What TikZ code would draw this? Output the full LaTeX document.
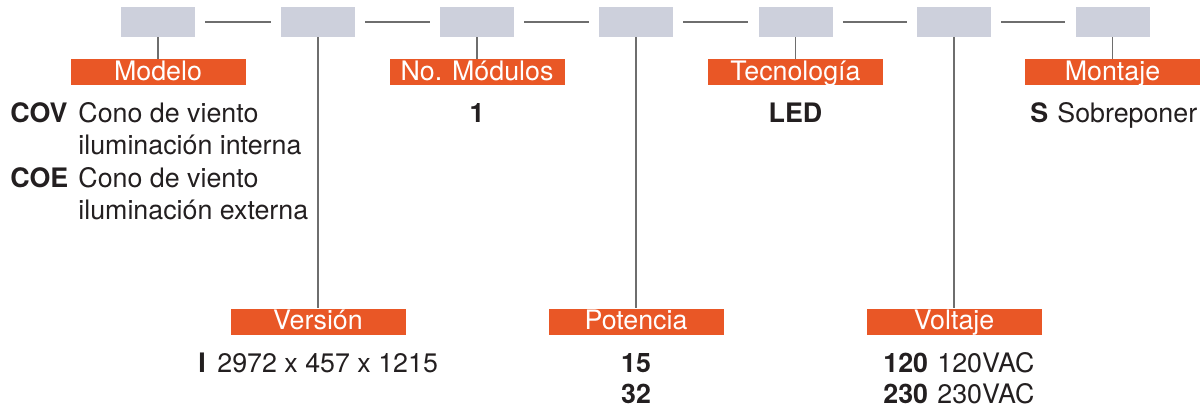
\documentclass[tikz,border=0pt]{standalone}
\usepackage{fontspec}
\setmainfont{TeX Gyre Heros}
\usetikzlibrary{positioning}
\definecolor{grisCasilla}{RGB}{205,208,220}
\definecolor{naranjaEtq}{RGB}{233,87,38}
\definecolor{grisLinea}{RGB}{110,110,110}
\definecolor{negroTexto}{RGB}{35,31,32}

\begin{document}
\begin{tikzpicture}[x=0.5pt,y=-0.5pt,font=\fontsize{13.4}{16}\selectfont,
  casilla/.style={fill=grisCasilla,minimum width=37pt,minimum height=15pt,inner sep=0},
  etiqueta/.style={fill=naranjaEtq,text=white,minimum width=87.5pt,minimum height=13pt,
    inner sep=0,text height=10.5pt,text depth=2.5pt},
  conector/.style={draw=grisLinea,line width=0.6pt},
  dato/.style={anchor=base west,inner sep=0,text=negroTexto},
  datoc/.style={anchor=base,inner sep=0,text=negroTexto,font=\fontsize{13.4}{16}\selectfont\bfseries}]
\useasboundingbox (0,0) rectangle (1204,408);

% casillas del codigo
\node[casilla] (c1) at (158,22) {};
\node[casilla] (c2) at (318,22) {};
\node[casilla] (c3) at (477,22) {};
\node[casilla] (c4) at (636,22) {};
\node[casilla] (c5) at (795.5,22) {};
\node[casilla] (c6) at (954,22) {};
\node[casilla] (c7) at (1112.5,22) {};

\foreach \a/\b in {1/2,2/3,3/4,4/5,5/6,6/7}
  \draw[conector,shorten <=5pt,shorten >=5pt] (c\a.east) -- (c\b.west);

% etiquetas
\node[etiqueta] (e1) at (158,72) {Modelo};
\node[etiqueta] (e3) at (477,72) {No. Módulos};
\node[etiqueta] (e5) at (795.5,72) {Tecnología};
\node[etiqueta] (e7) at (1112.5,72) {Montaje};
\node[etiqueta] (e2) at (318,321.5) {Versión};
\node[etiqueta] (e4) at (636,321.5) {Potencia};
\node[etiqueta] (e6) at (954,321.5) {Voltaje};

\foreach \i in {1,...,7}
  \draw[conector] (c\i.south) -- (e\i.north);

% modelo
\node[dato] (cov) at (10,122) {\bfseries COV};
\node[dato] (cov1) at (78,122) {Cono de viento};
\node[dato] (cov2) at (78,154) {iluminación interna};
\node[dato] (coe) at (10,187) {\bfseries COE};
\node[dato] (coe1) at (78,187) {Cono de viento};
\node[dato] (coe2) at (78,219) {iluminación externa};

% modulos, tecnologia, montaje
\node[datoc] (mod) at (477,122) {1};
\node[datoc] (led) at (795.5,122) {LED};
\node[dato] (s) at (1030,122) {\bfseries S};
\node[dato] (sob) at (1057,122) {Sobreponer};

% version
\node[dato] (ver) at (198,372) {\bfseries I};
\node[dato] (dim) at (217,372) {2972 x 457 x 1215};

% potencia
\node[datoc] (p15) at (636,372) {15};
\node[datoc] (p32) at (636,403) {32};

% voltaje
\node[dato] (v120) at (883,372) {\bfseries 120};
\node[dato] (v120t) at (937,372) {120VAC};
\node[dato] (v230) at (883,403) {\bfseries 230};
\node[dato] (v230t) at (937,403) {230VAC};

\end{tikzpicture}
\end{document}
